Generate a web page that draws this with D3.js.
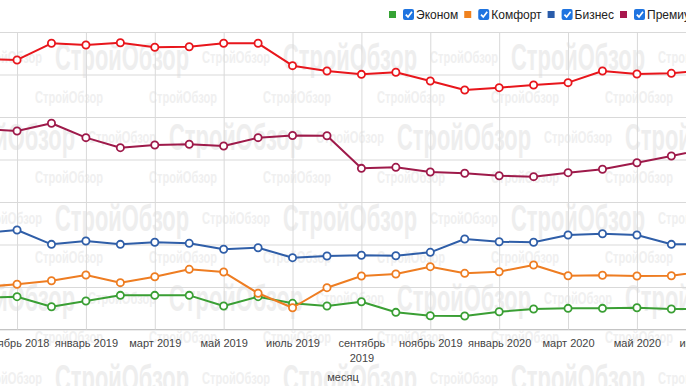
<!DOCTYPE html>
<html>
<head>
  <script src="https://d3js.org/d3.v7.min.js"></script>
  <meta charset="utf-8">
  <title>Цены по классам жилья</title>
  <style>
    body {margin: 0; background: #fff; overflow: hidden;}
    svg {display: block; font-family: "Liberation Sans", Arial, sans-serif;}
    .x-axis text {fill: #444; font-size: 11px;}
    .x-axis line, .y-axis line {stroke: #d9d9d9;}
    .x-axis .domain {stroke: #c4c4c4;}
    .y-axis .domain {display: none;}
    .legend text {font-size: 12px; fill: #222;}
  </style>
</head>
<body>
  <div id="chart"></div>

  <script>
    /* Data (thousand rub per m2, estimated) */
    const months = ["октябрь 2018", "ноябрь 2018", "декабрь 2018", "январь 2019", "февраль 2019", "март 2019",
                    "апрель 2019", "май 2019", "июнь 2019", "июль 2019", "август 2019", "сентябрь 2019",
                    "октябрь 2019", "ноябрь 2019", "декабрь 2019", "январь 2020", "февраль 2020", "март 2020",
                    "апрель 2020", "май 2020", "июнь 2020", "июль 2020"];
    const tickMonths = ["ноябрь 2018", "январь 2019", "март 2019", "май 2019", "июль 2019", "сентябрь 2019",
                        "ноябрь 2019", "январь 2020", "март 2020", "май 2020", "июль 2020"];
    const yTicks = [100, 150, 200, 250, 300, 350, 400, 450];

    const seriesNames = ["Эконом", "Комфорт", "Бизнес", "Премиум", "Элитный"];
    const seriesColors = ["#3a9f34", "#ee7d22", "#2f5ea8", "#9e1a4a", "#e8161c"];
    const legendColors = ["#36a334", "#f0821e", "#2a5caa", "#a8174d", "#e8161c"];

    const econom  = [137.1, 138.6, 126.8, 133.5, 140.2, 140.2, 140.2, 127.6, 138.6, 130.8, 127.6, 132.7,
                     120.2, 116.2, 115.9, 120.9, 124.1, 124.9, 124.9, 125.6, 124.1, 124.1];
    const comfort = [150.0, 153.2, 157.4, 164.1, 155.1, 162.1, 170.8, 167.6, 142.6, 125.6, 149.2, 162.9,
                     165.3, 173.9, 166.1, 168.0, 175.9, 163.3, 163.8, 162.9, 163.3, 168.8];
    const business = [213.5, 217.1, 200.2, 204.1, 200.2, 202.6, 201.4, 194.4, 196.2, 184.5, 186.5, 187.3,
                      186.8, 190.8, 206.5, 203.3, 202.6, 211.2, 212.7, 211.2, 200.2, 200.6];
    const premium = [335.9, 333.5, 342.6, 325.7, 313.9, 317.1, 317.9, 315.9, 325.7, 328.2, 328.0, 289.6,
                     290.8, 285.3, 283.8, 280.9, 279.8, 284.5, 288.5, 296.2, 304.1, 312.4];
    const elite   = [418.2, 417.1, 436.7, 434.7, 437.4, 432.0, 432.7, 436.7, 436.7, 410.4, 404.1, 400.2,
                     402.6, 392.4, 381.8, 384.5, 387.6, 390.4, 404.1, 400.6, 401.4, 405.3];
    const seriesValues = [econom, comfort, business, premium, elite];

    /* Canvas — the picture is a crop, the plot runs past both edges */
    const W = 686, H = 386;
    const plot = {left: -60, right: 720, top: 32, bottom: 329.5};
    const FONT = '"Liberation Sans", Arial, sans-serif';

    const svg = d3.select("#chart").append("svg")
                  .attr("width", W).attr("height", H);

    const x = d3.scalePoint().domain(months).range([-17.4, 705.8]);
    const y = d3.scaleLinear().domain([100, 450]).range([plot.bottom, plot.top]);

    /* Watermark (drawn first, sits behind grid and lines) */
    const mark = svg.append("g").attr("pointer-events", "none")
                    .attr("font-family", FONT).attr("font-weight", "bold");
    const addMark = (cx, cy, big) => {
      mark.append("text")
          .attr("x", cx - (big ? 67 : 34)).attr("y", cy)
          .attr("dominant-baseline", "central")
          .attr("font-size", big ? 36 : 16)
          .attr("textLength", big ? 134 : 68)
          .attr("lengthAdjust", "spacingAndGlyphs")
          .attr("fill", big ? "#eeeeee" : "#f0f0f0")
          .text("СтройОбзор");
    };
    [57, 137, 218, 298, 378].forEach((ry, r) => {
      const off = r % 2 ? 114 : 0;
      for (let k = -1; k < 8; k++) addMark(8 + off + k * 114, ry, ((k % 2) + 2) % 2 === 1);
    });
    [97, 177, 257, 337].forEach(ry => {
      for (let k = -1; k < 7; k++) addMark(69 + k * 114, ry, false);
    });

    /* Horizontal grid via the y axis, labels sit off-screen on the left */
    svg.append("g")
       .attr("class", "y-axis")
       .attr("font-family", FONT)
       .attr("transform", `translate(${plot.left},0)`)
       .call(d3.axisLeft(y).tickValues(yTicks).tickSize(-(plot.right - plot.left)).tickPadding(8))
       .selectAll("text").attr("fill", "#444").attr("font-size", 11);

    /* Vertical grid + month labels via the x axis */
    const xAxis = svg.append("g")
       .attr("class", "x-axis")
       .attr("transform", `translate(0,${plot.bottom})`)
       .call(d3.axisBottom(x).tickValues(tickMonths)
               .tickSizeInner(-(plot.bottom - plot.top)).tickSizeOuter(0).tickPadding(10))
       .attr("font-family", FONT);
    xAxis.select(".domain").attr("d", `M${plot.left},0H${plot.right}`);
    xAxis.selectAll(".tick text").each(function (d) {
      const t = d3.select(this);
      if (d.startsWith("сентябрь")) {
        const parts = d.split(" ");
        t.text(null);
        parts.forEach((p, i) => t.append("tspan").attr("x", 0).attr("dy", i ? 15 : "0.71em").text(p));
      }
    });

    svg.append("text")
       .attr("x", 343).attr("y", 381)
       .attr("text-anchor", "middle")
       .attr("font-size", 11).attr("fill", "#444")
       .text("месяц");

    /* Lines and markers */
    const line = d3.line().x((d, i) => x(months[i])).y(d => y(d));
    const series = svg.selectAll(".series")
       .data(seriesValues)
       .enter().append("g").attr("class", "series");

    series.append("path")
       .attr("d", d => line(d))
       .attr("fill", "none")
       .attr("stroke", (d, i) => seriesColors[i])
       .attr("stroke-width", 2)
       .attr("stroke-linejoin", "round");

    series.each(function (vals, si) {
      d3.select(this).selectAll("circle")
        .data(vals)
        .enter().append("circle")
        .attr("cx", (d, i) => x(months[i]))
        .attr("cy", d => y(d))
        .attr("r", 3.6)
        .attr("fill", "#fff")
        .attr("stroke", seriesColors[si])
        .attr("stroke-width", 1.8);
    });

    /* Legend with checkbox glyphs */
    const legend = svg.append("g").attr("class", "legend");
    let lx = 389;
    seriesNames.forEach((name, i) => {
      const g = legend.append("g").attr("transform", `translate(${lx},0)`);
      g.append("rect").attr("x", 0).attr("y", 11).attr("width", 7).attr("height", 7)
       .attr("fill", legendColors[i]);
      g.append("rect").attr("x", 14).attr("y", 9).attr("width", 11).attr("height", 11)
       .attr("rx", 2).attr("fill", "#1f74e0");
      g.append("path").attr("d", "M16.8,14.6 L19,16.9 L23,11.8")
       .attr("fill", "none").attr("stroke", "#fff").attr("stroke-width", 1.7);
      const t = g.append("text").attr("x", 27).attr("y", 18.5).text(name);
      lx += 27 + t.node().getComputedTextLength() + 6;
    });
  </script>
</body>
</html>
